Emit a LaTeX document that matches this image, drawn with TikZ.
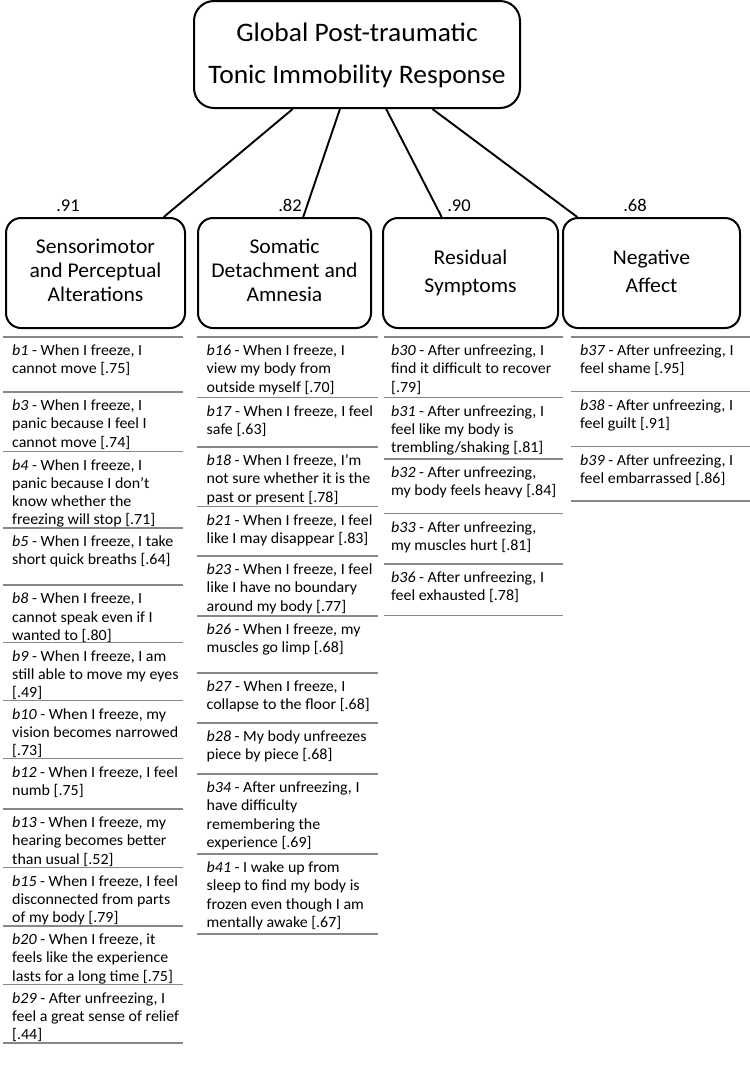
\documentclass[tikz,border=0pt]{standalone}
\usepackage{fontspec}
\setmainfont{Carlito}[FakeStretch=1.03]
\usetikzlibrary{calc}
\definecolor{rulegray}{RGB}{135,135,135}
\newcommand\itemfont{\fontsize{15.5}{18.3}\selectfont}
\newcommand\itmbox[1]{\parbox[t]{200pt}{\itemfont\raggedright #1}}
\begin{document}
\begin{tikzpicture}[x=1pt,y=-1pt,
  topbox/.style={draw, line width=2pt, rounded corners=20pt, minimum width=326pt, minimum height=107pt, align=center, inner sep=0pt, font=\fontsize{26.7}{41.7}\selectfont},
  factor/.style={draw, line width=2pt, rounded corners=15pt, minimum height=110pt, align=center, inner sep=0pt, font=\fontsize{21}{24}\selectfont},
  factorwide/.style={factor, font=\fontsize{21}{28}\selectfont},
  coef/.style={anchor=base, inner sep=0pt, font=\fontsize{18}{20}\selectfont},
  itm/.style={anchor=base west, inner sep=0pt},
  link/.style={line width=1.9pt},
  rulel/.style={draw=rulegray, line width=1.6pt}]
\fill[white] (0,0) rectangle (750,1069);
\useasboundingbox (0,0) rectangle (750,1069);

% boxes
\node[topbox] (top) at (357,54.5) {\strut Global Post-traumatic\\Tonic Immobility Response\strut};
\node[factor, minimum width=179pt] (f1) at (95.5,273) {\strut Sensorimotor\\and Perceptual\\Alterations\strut};
\node[factor, minimum width=173pt] (f2) at (284.5,273) {\strut Somatic\\Detachment and\\Amnesia\strut};
\node[factorwide, minimum width=175pt] (f3) at (470.5,273) {\strut Residual\\Symptoms\strut};
\node[factorwide, minimum width=177pt] (f4) at (651.5,273) {\strut Negative\\Affect\strut};

% connectors
\draw[link] ($(top.south west)!0.304!(top.south east)$) -- ($(f1.north west)!0.877!(f1.north east)$);
\draw[link] ($(top.south west)!0.448!(top.south east)$) -- ($(f2.north west)!0.607!(f2.north east)$);
\draw[link] ($(top.south west)!0.589!(top.south east)$) -- ($(f3.north west)!0.337!(f3.north east)$);
\draw[link] ($(top.south west)!0.730!(top.south east)$) -- ($(f4.north west)!0.085!(f4.north east)$);

% loadings
\node[coef] (c1) at (68,211) {.91};
\node[coef] (c2) at (290,211) {.82};
\node[coef] (c3) at (459,211) {.90};
\node[coef] (c4) at (635,211) {.68};

% rules
\foreach \y in {337,392,451.5,528,585.2,642.5,700.5,758.5,809,867.5,926,984.5,1043}
  \draw[rulel] (3,\y) -- (183,\y);
\foreach \y in {337,397.5,447,506.5,556,616,673,723,774,854,934}
  \draw[rulel] (197,\y) -- (378,\y);
\foreach \y in {337,397.5,459,513.5,564,615.5}
  \draw[rulel] (384,\y) -- (563,\y);
\foreach \y in {337,391.5,446.5,501}
  \draw[rulel] (571,\y) -- (750,\y);

% column 1
\node[itm] (b1) at (12,355.5) {\itmbox{\textit{b1} - When I freeze, I\\cannot move [.75]}};
\node[itm] (b3) at (12,410.5) {\itmbox{\textit{b3} - When I freeze, I\\panic because I feel I\\cannot move [.74]}};
\node[itm] (b4) at (12,470) {\itmbox{\textit{b4} - When I freeze, I\\panic because I don’t\\know whether the\\freezing will stop [.71]}};
\node[itm] (b5) at (12,546.5) {\itmbox{\textit{b5} - When I freeze, I take\\short quick breaths [.64]}};
\node[itm] (b8) at (12,603.7) {\itmbox{\textit{b8} - When I freeze, I\\cannot speak even if I\\wanted to [.80]}};
\node[itm] (b9) at (12,661) {\itmbox{\textit{b9} - When I freeze, I am\\still able to move my eyes\\{[.49]}}};
\node[itm] (b10) at (12,719) {\itmbox{\textit{b10} - When I freeze, my\\vision becomes narrowed\\{[.73]}}};
\node[itm] (b12) at (12,777) {\itmbox{\textit{b12} - When I freeze, I feel\\numb [.75]}};
\node[itm] (b13) at (12,827.5) {\itmbox{\textit{b13} - When I freeze, my\\hearing becomes better\\than usual [.52]}};
\node[itm] (b15) at (12,886) {\itmbox{\textit{b15} - When I freeze, I feel\\disconnected from parts\\of my body [.79]}};
\node[itm] (b20) at (12,944.5) {\itmbox{\textit{b20} - When I freeze, it\\feels like the experience\\lasts for a long time [.75]}};
\node[itm] (b29) at (12,1003) {\itmbox{\textit{b29} - After unfreezing, I\\feel a great sense of relief\\{[.44]}}};

% column 2
\node[itm] (b16) at (206.5,355.5) {\itmbox{\textit{b16} - When I freeze, I\\view my body from\\outside myself [.70]}};
\node[itm] (b17) at (206.5,416) {\itmbox{\textit{b17} - When I freeze, I feel\\safe [.63]}};
\node[itm] (b18) at (206.5,465.5) {\itmbox{\textit{b18} - When I freeze, I’m\\not sure whether it is the\\past or present [.78]}};
\node[itm] (b21) at (206.5,525) {\itmbox{\textit{b21} - When I freeze, I feel\\like I may disappear [.83]}};
\node[itm] (b23) at (206.5,574.5) {\itmbox{\textit{b23} - When I freeze, I feel\\like I have no boundary\\around my body [.77]}};
\node[itm] (b26) at (206.5,634.5) {\itmbox{\textit{b26} - When I freeze, my\\muscles go limp [.68]}};
\node[itm] (b27) at (206.5,691.5) {\itmbox{\textit{b27} - When I freeze, I\\collapse to the floor [.68]}};
\node[itm] (b28) at (206.5,741.5) {\itmbox{\textit{b28} - My body unfreezes\\piece by piece [.68]}};
\node[itm] (b34) at (206.5,792.5) {\itmbox{\textit{b34} - After unfreezing, I\\have difficulty\\remembering the\\experience [.69]}};
\node[itm] (b41) at (206.5,872.5) {\itmbox{\textit{b41} - I wake up from\\sleep to find my body is\\frozen even though I am\\mentally awake [.67]}};

% column 3
\node[itm] (b30) at (391,355.5) {\itmbox{\textit{b30} - After unfreezing, I\\find it difficult to recover\\{[.79]}}};
\node[itm] (b31) at (391,416) {\itmbox{\textit{b31} - After unfreezing, I\\feel like my body is\\trembling/shaking [.81]}};
\node[itm] (b32) at (391,477.5) {\itmbox{\textit{b32} - After unfreezing,\\my body feels heavy [.84]}};
\node[itm] (b33) at (391,532) {\itmbox{\textit{b33} - After unfreezing,\\my muscles hurt [.81]}};
\node[itm] (b36) at (391,582.5) {\itmbox{\textit{b36} - After unfreezing, I\\feel exhausted [.78]}};

% column 4
\node[itm] (b37) at (580,355.5) {\itmbox{\textit{b37} - After unfreezing, I\\feel shame [.95]}};
\node[itm] (b38) at (580,410) {\itmbox{\textit{b38} - After unfreezing, I\\feel guilt [.91]}};
\node[itm] (b39) at (580,465) {\itmbox{\textit{b39} - After unfreezing, I\\feel embarrassed [.86]}};
\end{tikzpicture}
\end{document}
